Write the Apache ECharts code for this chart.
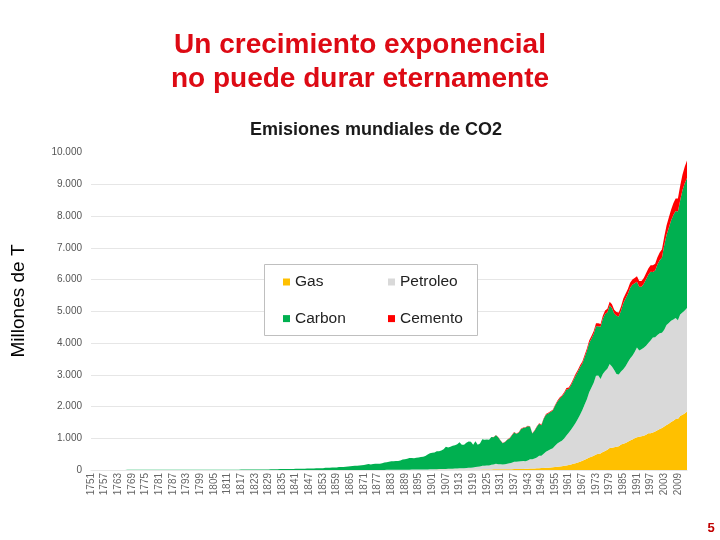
<!DOCTYPE html>
<html>
<head>
<meta charset="utf-8">
<script src="https://cdn.jsdelivr.net/npm/echarts@6/dist/echarts.min.js"></script>
<style>
html,body{margin:0;padding:0;background:#fff;}
#chart{width:720px;height:540px;}
</style>
</head>
<body>
<div id="chart"></div>
<script>
// ---- data (million tonnes) ----
var firstYear = 1751;
var lastYear = 2013;
var seriesNames = ['Gas', 'Petroleo', 'Carbon', 'Cemento'];

var gas = [
  // 1751-1884
  0,0,0,0,0,0,0,0,0,0, 0,0,0,0,0,0,0,0,0,0, 0,0,0,0,0,0,0,0,0,0,
  0,0,0,0,0,0,0,0,0,0, 0,0,0,0,0,0,0,0,0,0, 0,0,0,0,0,0,0,0,0,0,
  0,0,0,0,0,0,0,0,0,0, 0,0,0,0,0,0,0,0,0,0, 0,0,0,0,0,0,0,0,0,0,
  0,0,0,0,0,0,0,0,0,0, 0,0,0,0,0,0,0,0,0,0, 0,0,0,0,0,0,0,0,0,0,
  0,0,0,0,0,0,0,0,0,0, 0,0,0,0,
  // 1885-1889
  1,1,1,1,2,
  // 1890-
  2,2,2,2,2,2,2,2,3,3,
  3,3,3,4,4,4,5,5,5,6,
  6,6,7,7,7,8,8,9,9,9,
  10,10,11,13,14,15,16,18,20,23,
  23,22,20,21,23,25,27,29,29,30,
  33,35,36,40,44,45,48,53,58,62,
  60,68,74,80,86,95,104,113,122,134,
  145,160,176,194,214,236,262,290,320,352,
  390,420,450,490,510,520,570,600,640,690,
  700,720,730,750,800,830,850,890,930,960,
  1000,1030,1050,1060,1080,1110,1160,1160,1180,1210,
  1250,1290,1320,1370,1420,1460,1510,1550,1610,1610,
  1700,1740,1780,1840
];

var petroleo = [
  // 1751-1869
  0,0,0,0,0,0,0,0,0,0, 0,0,0,0,0,0,0,0,0,0, 0,0,0,0,0,0,0,0,0,0,
  0,0,0,0,0,0,0,0,0,0, 0,0,0,0,0,0,0,0,0,0, 0,0,0,0,0,0,0,0,0,0,
  0,0,0,0,0,0,0,0,0,0, 0,0,0,0,0,0,0,0,0,0, 0,0,0,0,0,0,0,0,0,0,
  0,0,0,0,0,0,0,0,0,0, 0,0,0,0,0,0,0,0,0,0, 0,0,0,0,0,0,0,0,0,
  // 1870-
  1,1,1,2,2,2,2,2,3,3,
  3,4,4,4,4,5,5,5,6,6,
  8,9,10,10,10,12,13,14,14,16,
  17,19,20,22,25,25,25,30,32,35,
  37,39,41,45,46,49,53,59,58,66,
  84,90,100,118,118,124,128,145,153,170,
  162,156,150,164,172,188,205,232,228,236,
  244,252,238,256,292,292,312,344,388,388,
  450,510,540,570,600,670,730,770,800,860,
  940,1010,1090,1180,1270,1370,1480,1600,1740,1880,
  2060,2180,2300,2480,2470,2350,2450,2520,2550,2650,
  2560,2430,2290,2260,2300,2340,2420,2500,2580,2640,
  2720,2830,2710,2740,2770,2800,2840,2920,2990,2970,
  3000,3020,3000,3050,3150,3170,3190,3190,3180,3110,
  3200,3220,3240,3260
];

var carbon = [
  // 1751-1869
  3,3,3,3,3,3,3,3,3,3,
  3,3,3,3,3,3,4,4,4,4,
  4,4,4,4,4,4,4,5,5,5,
  5,5,5,5,5,5,6,6,6,7,
  7,7,7,7,7,7,7,7,7,8,
  8,9,9,9,9,9,9,9,10,10,
  10,10,10,10,11,11,12,12,13,14,
  14,14,15,16,17,17,18,19,19,24,
  24,25,25,28,29,30,31,32,33,35,
  37,38,38,40,42,44,47,48,49,54,
  54,55,59,68,71,73,75,76,77,91,
  94,97,100,109,118,123,130,135,142,
  // 1870-
  147,156,173,184,174,188,191,194,196,210,
  236,243,256,272,275,277,281,295,327,327,
  345,366,363,358,370,383,394,403,425,466,
  507,524,531,563,562,582,622,694,668,690,
  723,731,762,822,746,735,794,832,822,720,
  814,692,722,835,821,819,811,873,858,903,
  847,750,669,699,759,781,856,921,881,910,
  1009,1038,1062,1082,1034,813,878,969,1008,962,
  1102,1162,1164,1176,1187,1255,1314,1363,1392,1416,
  1452,1385,1405,1445,1479,1485,1495,1464,1490,1524,
  1552,1536,1541,1555,1545,1638,1743,1797,1780,1847,
  1840,1780,1839,1825,1922,2085,2130,2155,2230,2235,
  2160,2070,2015,1970,2015,2095,2150,2165,2070,2100,
  2220,2300,2375,2655,2830,3000,3155,3290,3370,3420,
  3600,3850,4010,4100
];

var cemento = [
  // 1751-1927
  0,0,0,0,0,0,0,0,0,0, 0,0,0,0,0,0,0,0,0,0, 0,0,0,0,0,0,0,0,0,0,
  0,0,0,0,0,0,0,0,0,0, 0,0,0,0,0,0,0,0,0,0, 0,0,0,0,0,0,0,0,0,0,
  0,0,0,0,0,0,0,0,0,0, 0,0,0,0,0,0,0,0,0,0, 0,0,0,0,0,0,0,0,0,0,
  0,0,0,0,0,0,0,0,0,0, 0,0,0,0,0,0,0,0,0,0, 0,0,0,0,0,0,0,0,0,0,
  0,0,0,0,0,0,0,0,0,0, 0,0,0,0,0,0,0,0,0,0, 0,0,0,0,0,0,0,0,0,0,
  0,0,0,0,0,0,0,0,0,0, 0,0,0,0,0,0,0,0,0,0, 0,0,0,0,0,0,0,
  // 1928-
  10,10,
  10,9,8,9,10,11,12,13,13,14,
  14,15,14,12,10,10,12,14,16,18,
  18,20,22,24,27,30,32,34,36,40,
  43,45,49,51,57,59,63,66,70,74,
  78,84,89,95,95,92,97,103,110,113,
  120,120,121,125,128,145,150,155,160,165,
  170,170,175,180,185,195,200,205,210,220,
  230,240,255,275,300,320,345,370,390,410,
  450,490,520,550
];

var yTicks = [0, 1000, 2000, 3000, 4000, 5000, 6000, 7000, 8000, 9000, 10000];

var years = [];
for (var y = firstYear; y <= lastYear; y++) years.push(String(y));

var colors = { Gas: '#ffc000', Petroleo: '#d9d9d9', Carbon: '#00b050', Cemento: '#ff0000' };
var values = { Gas: gas, Petroleo: petroleo, Carbon: carbon, Cemento: cemento };

function fmt(v) { return String(v).replace(/\B(?=(\d{3})+(?!\d))/g, '.'); }

var FONT = 'Liberation Sans, Arial, sans-serif';
var chart = echarts.init(document.getElementById('chart'), null, { renderer: 'canvas' });

var legendText = { fontSize: 15.5, lineHeight: 16, color: '#222', fontFamily: FONT };

chart.setOption({
  animation: false,
  backgroundColor: '#ffffff',
  textStyle: { fontFamily: FONT },
  title: [
    {
      text: 'Un crecimiento exponencial\nno puede durar eternamente',
      left: 'center',
      top: 23,
      textStyle: { fontSize: 28, fontWeight: 'bold', color: '#dd0a14', lineHeight: 34, fontFamily: FONT }
    },
    {
      text: 'Emisiones mundiales de CO2',
      left: 371,
      textAlign: 'center',
      top: 116,
      textStyle: { fontSize: 18, fontWeight: 'bold', color: '#1a1a1a', lineHeight: 18, fontFamily: FONT }
    }
  ],
  legend: [
    {
      data: ['Gas', 'Carbon'],
      orient: 'vertical',
      left: 283, top: 274, padding: 0,
      itemWidth: 7, itemHeight: 7, itemGap: 20.6,
      icon: 'rect',
      selectedMode: false,
      textStyle: legendText
    },
    {
      data: ['Petroleo', 'Cemento'],
      orient: 'vertical',
      left: 388, top: 274, padding: 0,
      itemWidth: 7, itemHeight: 7, itemGap: 20.6,
      icon: 'rect',
      selectedMode: false,
      textStyle: legendText
    }
  ],
  graphic: [
    {
      type: 'rect', z: 3,
      shape: { x: 264.5, y: 264.5, width: 213, height: 71 },
      style: { fill: '#ffffff', stroke: '#bfbfbf', lineWidth: 1 }
    },
    {
      type: 'text', z: 3, x: 19, y: 301, rotation: Math.PI / 2,
      style: { text: 'Millones de T', fontSize: 19, fill: '#000', align: 'center', verticalAlign: 'middle', fontFamily: FONT }
    },
    {
      type: 'text', z: 3, x: 711, y: 528,
      style: { text: '5', fontSize: 13, fontWeight: 'bold', fill: '#c00000', align: 'center', verticalAlign: 'middle', fontFamily: FONT }
    }
  ],
  grid: { left: 91, right: 33, top: 152.5, bottom: 70, containLabel: false },
  xAxis: {
    type: 'category',
    data: years,
    boundaryGap: false,
    axisTick: { show: false },
    axisLine: { show: true, lineStyle: { color: '#e6e6e6' } },
    axisLabel: { interval: 5, rotate: 90, fontSize: 10, color: '#666', margin: 3 },
    splitLine: { show: false }
  },
  yAxis: {
    type: 'value',
    min: yTicks[0],
    max: yTicks[yTicks.length - 1],
    interval: 1000,
    axisLine: { show: false },
    axisTick: { show: false },
    axisLabel: { fontSize: 10, color: '#555', margin: 9, formatter: fmt },
    splitLine: { showMaxLine: false, lineStyle: { color: '#e6e6e6', width: 1 } }
  },
  series: seriesNames.map(function (n) {
    return {
      name: n,
      type: 'line',
      stack: 'total',
      data: values[n],
      symbol: 'none',
      showSymbol: false,
      lineStyle: { width: 0 },
      itemStyle: { color: colors[n] },
      areaStyle: { color: colors[n], opacity: 1 },
      emphasis: { disabled: true },
      z: 2
    };
  })
});
</script>
</body>
</html>
